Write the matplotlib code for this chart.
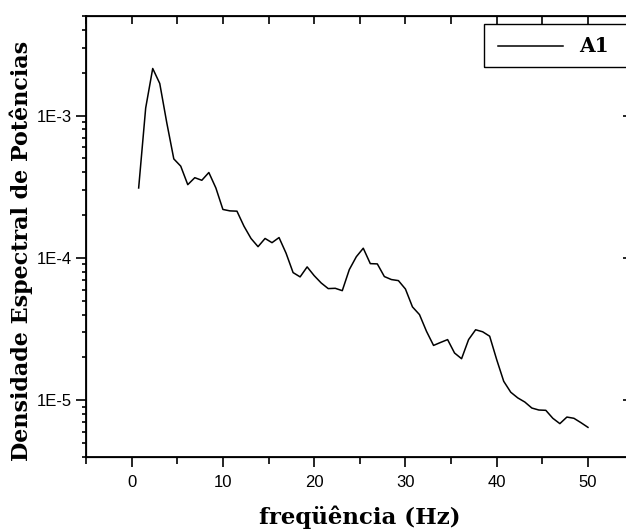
import math
import matplotlib
matplotlib.use("Agg")
import matplotlib.pyplot as plt
from matplotlib.patches import Rectangle
from matplotlib.lines import Line2D
from matplotlib.ticker import LogLocator, FixedLocator, FuncFormatter, NullFormatter

# frequências (Hz) e densidade espectral
freq = [0.77, 1.54, 2.31, 3.08, 3.85, 4.62, 5.38, 6.15, 6.92, 7.69,
        8.46, 9.23, 10.00, 10.77, 11.54, 12.31, 13.08, 13.85, 14.62, 15.38,
        16.15, 16.92, 17.69, 18.46, 19.23, 20.00, 20.77, 21.54, 22.31, 23.08,
        23.85, 24.62, 25.38, 26.15, 26.92, 27.69, 28.46, 29.23, 30.00, 30.77,
        31.54, 32.31, 33.08, 33.85, 34.62, 35.38, 36.15, 36.92, 37.69, 38.46,
        39.23, 40.00, 40.77, 41.54, 42.31, 43.08, 43.85, 44.62, 45.38, 46.15,
        46.92, 47.69, 48.46, 49.23, 50.00]
psd_a1 = [3.10e-4, 1.13e-3, 2.14e-3, 1.68e-3, 8.9e-4, 4.96e-4, 4.41e-4, 3.27e-4, 3.66e-4, 3.51e-4,
          3.98e-4, 3.10e-4, 2.19e-4, 2.14e-4, 2.13e-4, 1.67e-4, 1.37e-4, 1.20e-4, 1.37e-4, 1.28e-4,
          1.39e-4, 1.08e-4, 7.89e-5, 7.36e-5, 8.65e-5, 7.51e-5, 6.67e-5, 6.09e-5, 6.12e-5, 5.89e-5,
          8.28e-5, 1.02e-4, 1.17e-4, 9.12e-5, 9.08e-5, 7.40e-5, 7.05e-5, 6.93e-5, 6.05e-5, 4.53e-5,
          4.00e-5, 3.05e-5, 2.43e-5, 2.55e-5, 2.67e-5, 2.15e-5, 1.96e-5, 2.67e-5, 3.13e-5, 3.03e-5,
          2.82e-5, 1.93e-5, 1.36e-5, 1.14e-5, 1.04e-5, 9.73e-6, 8.83e-6, 8.55e-6, 8.51e-6, 7.48e-6,
          6.86e-6, 7.63e-6, 7.48e-6, 6.97e-6, 6.46e-6]

xticks = [0, 10, 20, 30, 40, 50]
XLIM = (-5, 55)
YLIM = (4e-6, 5e-3)

W, H = 626, 532
fig = plt.figure(figsize=(W / 100, H / 100), dpi=100)
ax = fig.add_axes([86 / W, 1 - 457 / H, 547.6 / W, 441 / H])

ax.plot(freq, psd_a1, color="black", lw=1.1)
ax.set_yscale("log")
ax.set_xlim(*XLIM)
ax.set_ylim(*YLIM)

for s in ax.spines.values():
    s.set_linewidth(1.3)

ax.xaxis.set_major_locator(FixedLocator(xticks))
ax.xaxis.set_minor_locator(FixedLocator([-5, 5, 15, 25, 35, 45, 55]))
ax.yaxis.set_major_locator(LogLocator(base=10, numticks=10))
ax.yaxis.set_minor_locator(LogLocator(base=10, subs=range(2, 10), numticks=20))
ax.yaxis.set_major_formatter(FuncFormatter(lambda v, p: "1E%d" % round(math.log10(v))))
ax.yaxis.set_minor_formatter(NullFormatter())

ax.tick_params(axis="x", which="major", direction="out", length=7, width=1.2,
               labelsize=12, pad=6)
ax.tick_params(axis="x", which="minor", direction="out", length=5, width=1.2)
ax.tick_params(axis="y", which="major", direction="out", length=7, width=1.2,
               labelsize=12, pad=3)
ax.tick_params(axis="y", which="minor", direction="out", length=3, width=1.2)
for lab in ax.get_xticklabels() + ax.get_yticklabels():
    lab.set_family("Liberation Sans")

# eixos superior e direito com ticks para dentro
axt = ax.twiny()
axt.set_xlim(*XLIM)
axt.xaxis.set_major_locator(FixedLocator([-5, 0, 5, 10, 15, 20, 25, 30, 35, 40, 45, 50, 55]))
axt.tick_params(axis="x", direction="in", length=5.5, width=1.2, labeltop=False)
axr = ax.twinx()
axr.set_yscale("log")
axr.set_ylim(*YLIM)
axr.yaxis.set_major_locator(LogLocator(base=10, numticks=10))
axr.yaxis.set_minor_locator(LogLocator(base=10, subs=range(2, 10), numticks=20))
axr.tick_params(axis="y", which="major", direction="in", length=8, width=1.2, labelright=False)
axr.tick_params(axis="y", which="minor", direction="in", length=3, width=1.0)
axr.yaxis.set_minor_formatter(NullFormatter())

fig.text(360 / W, 1 - 517 / H, "freqüência (Hz)", family="DejaVu Serif",
         fontweight="bold", fontsize=16.5, ha="center", va="center")
fig.text(21 / W, 1 - 251 / H, "Densidade Espectral de Potências", family="DejaVu Serif",
         fontweight="bold", fontsize=16, ha="center", va="center", rotation=90)

# legenda
fig.patches.append(Rectangle((484 / W, 1 - 67 / H), 160 / W, 43 / H,
                             transform=fig.transFigure, fill=False,
                             edgecolor="black", lw=1.0))
fig.lines.append(Line2D([498 / W, 563 / W], [1 - 45.5 / H] * 2,
                        transform=fig.transFigure, color="black", lw=1.1))
fig.text(579 / W, 1 - 45.5 / H, "A1", family="DejaVu Serif", fontweight="bold",
         fontsize=14.5, ha="left", va="center")

fig.savefig("out.png", dpi=100)
